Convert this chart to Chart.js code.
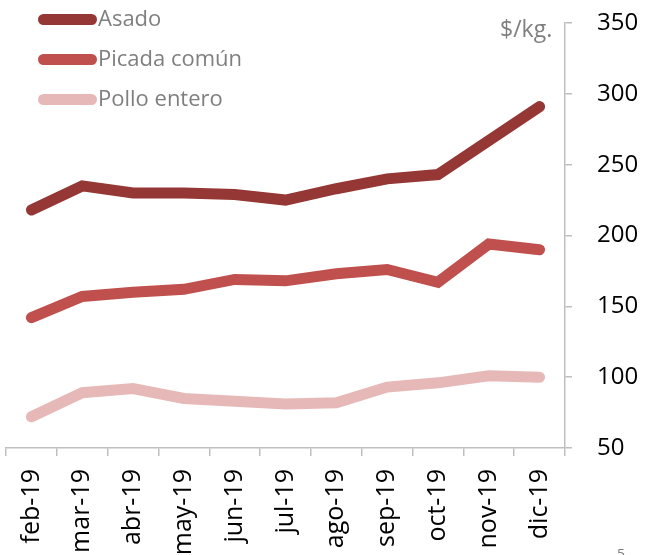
<!DOCTYPE html>
<html>
<head>
<meta charset="utf-8">
<script src="https://cdn.jsdelivr.net/npm/chart.js@4/dist/chart.umd.min.js"></script>
<style>
  html, body { margin: 0; padding: 0; background: #fff; }
  #wrap { position: relative; width: 645px; height: 555px; overflow: hidden; }
  #c { position: absolute; left: 0; top: 0; }
  .leg { position: absolute; left: 38px; height: 30px; font-family: 'Open Sans', sans-serif; font-size: 22px; color: #7f7f7f; line-height: 30px; white-space: nowrap; }
  .leg .sw { display: inline-block; width: 59px; height: 11px; border-radius: 5.5px; vertical-align: middle; margin-right: 1px; position: relative; top: -1px; }
  #unit { position: absolute; left: 500px; top: 12px; font-family: 'Open Sans', sans-serif; font-size: 23px; color: #7f7f7f; }
  #pg { position: absolute; left: 617px; top: 544px; font-family: 'Open Sans', sans-serif; font-size: 14px; color: #7f7f7f; }
</style>
</head>
<body>
<div id="wrap">
  <canvas id="c" width="645" height="555"></canvas>
  <div id="unit">$/kg.</div>
  <div id="pg">5</div>
</div>
<script>
const categories = ['feb-19','mar-19','abr-19','may-19','jun-19','jul-19','ago-19','sep-19','oct-19','nov-19','dic-19'];
const seriesNames = ['Asado', 'Picada común', 'Pollo entero'];
const asado   = [218, 235, 230, 230, 229, 225, 233, 240, 243, 267, 291];
const picada  = [142, 157, 160, 162, 169, 168, 173, 176, 167, 194, 190];
const pollo   = [72, 89, 92, 85, 83, 81, 82, 93, 96, 101, 100];
const yTicks  = [50, 100, 150, 200, 250, 300, 350];
const colors  = ['#953735', '#C0504D', '#E6B9B8'];

const seriesData = [asado, picada, pollo];
const wrap = document.getElementById('wrap');
seriesNames.forEach((name, i) => {
  const d = document.createElement('div');
  d.className = 'leg';
  d.style.top = (2 + i * 40) + 'px';
  const sw = document.createElement('span');
  sw.className = 'sw';
  sw.style.background = colors[i];
  d.appendChild(sw);
  d.appendChild(document.createTextNode(name));
  wrap.appendChild(d);
});

const font = 'Open Sans';
new Chart(document.getElementById('c'), {
  type: 'line',
  data: {
    labels: categories,
    datasets: seriesNames.map((name, i) => ({
      label: name,
      data: seriesData[i],
      borderColor: colors[i],
      backgroundColor: colors[i],
      borderWidth: 11,
      borderCapStyle: 'round',
      borderJoinStyle: 'miter',
      pointRadius: 0,
      tension: 0,
      fill: false
    }))
  },
  options: {
    responsive: false,
    animation: false,
    layout: { padding: { top: 23, left: 6, right: 0, bottom: 0 } },
    plugins: { legend: { display: false }, tooltip: { enabled: false } },
    scales: {
      x: {
        type: 'category',
        offset: true,
        afterFit: (ax) => { ax.height = 107; ax.paddingLeft = 0; ax.paddingRight = 0; ax.paddingTop = 0; ax.paddingBottom = 0; },
        grid: { offset: true, drawOnChartArea: false, color: '#bfbfbf', lineWidth: 1.5, tickLength: 8 },
        border: { color: '#bfbfbf', width: 1.5 },
        ticks: { maxRotation: 90, minRotation: 90, autoSkip: false, color: '#000', padding: 13, font: { family: font, size: 25 } }
      },
      y: {
        position: 'right',
        min: yTicks[0],
        max: yTicks[yTicks.length - 1],
        afterBuildTicks: (ax) => { ax.ticks = yTicks.map(v => ({ value: v })); },
        afterFit: (ax) => { ax.width = 80; ax.paddingTop = 0; ax.paddingBottom = 0; ax.paddingLeft = 0; ax.paddingRight = 0; },
        grid: { drawOnChartArea: false, color: '#bfbfbf', lineWidth: 1.5, tickLength: 7 },
        border: { color: '#bfbfbf', width: 1.5 },
        ticks: { color: '#000', padding: 25, font: { family: font, size: 24 } }
      }
    }
  }
});
</script>
</body>
</html>
